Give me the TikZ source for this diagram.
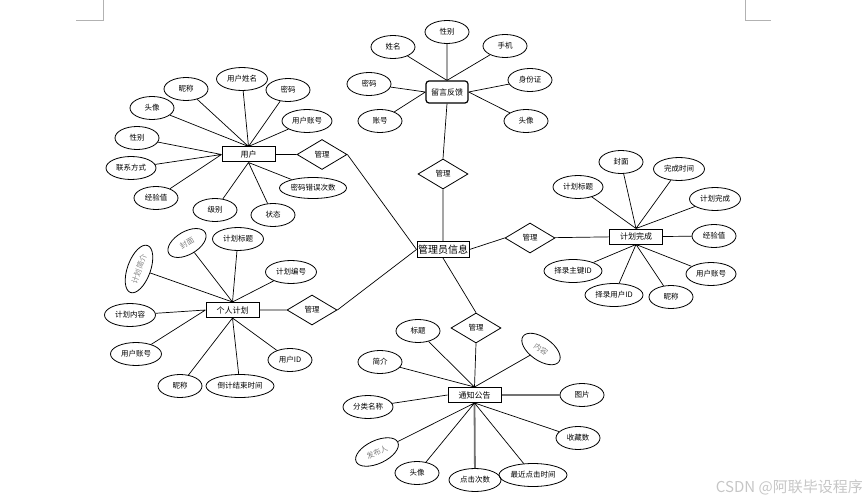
\documentclass[tikz,border=0pt]{standalone}
\usepackage{fontspec}
\setmainfont{Noto Sans CJK SC}
\usetikzlibrary{shapes.geometric}

\begin{document}
\begin{tikzpicture}[x=1pt, y=-1pt,
    attr/.style={draw, ellipse, line width=0.8pt, minimum width=44pt, minimum height=23pt, inner sep=0pt, font=\fontsize{7.5}{9}\selectfont},
    tilted/.style={attr, text=gray},
    entity/.style={draw, rectangle, line width=1pt, minimum width=53pt, minimum height=15pt, inner sep=1pt, font=\fontsize{8}{9}\selectfont},
    relation/.style={draw, diamond, line width=0.8pt, minimum width=50pt, minimum height=30pt, inner sep=0pt, font=\fontsize{7.5}{9}\selectfont},
    link/.style={line width=0.7pt},
    heavy/.style={line width=1.8pt, black!55}]
    \useasboundingbox (0,0) rectangle (868,500);

    % Page corner marks
    \draw[gray!60, line width=0.6pt] (76,20) -- (103,20) -- (103,0);
    \draw[gray!60, line width=0.6pt] (745,0) -- (745,20) -- (771,20);

    % Central entity
    \node[entity, font=\fontsize{10}{12}\selectfont, minimum width=52pt, minimum height=16pt] (admin) at (443,249.5) {管理员信息};

    % User entity and its attributes
    \node[entity] (user) at (248.5,154.5) {用户};
    \node[relation] (r_user) at (322,154.5) {管理};
    \node[attr] (u_nick) at (186,89) {昵称};
    \node[attr, minimum width=51pt] (u_name) at (242,79) {用户姓名};
    \node[attr] (u_pwd) at (288,90) {密码};
    \node[attr, minimum width=50pt] (u_acc) at (307,121) {用户账号};
    \node[attr] (u_head) at (152,108) {头像};
    \node[attr] (u_sex) at (137,138) {性别};
    \node[attr, minimum width=50pt] (u_tel) at (131,168) {联系方式};
    \node[attr] (u_exp) at (156,198) {经验值};
    \node[attr] (u_level) at (215,210) {级别};
    \node[attr] (u_state) at (273,215) {状态};
    \node[attr, minimum width=67pt, minimum height=21pt] (u_err) at (313,188) {密码错误次数};

    % Feedback entity and its attributes
    \node[entity, rounded corners=3pt, line width=1.2pt, minimum width=42pt, minimum height=22pt] (msg) at (447,92) {留言反馈};
    \node[relation] (r_msg) at (443,174) {管理};
    \node[attr] (m_name) at (393,47) {姓名};
    \node[attr] (m_sex) at (447,32) {性别};
    \node[attr] (m_phone) at (505,46) {手机};
    \node[attr] (m_pwd) at (369,84) {密码};
    \node[attr] (m_id) at (530,80) {身份证};
    \node[attr] (m_acc) at (380,121) {账号};
    \node[attr] (m_head) at (526,121) {头像};

    % Plan completion entity and its attributes
    \node[entity] (done) at (636,236.5) {计划完成};
    \node[relation] (r_done) at (530,238) {管理};
    \node[attr] (d_cover) at (621,162) {封面};
    \node[attr, minimum width=51pt] (d_time) at (679,169) {完成时间};
    \node[attr, minimum width=50pt] (d_title) at (578,187) {计划标题};
    \node[attr, minimum width=51pt] (d_done) at (715,199) {计划完成};
    \node[attr] (d_exp) at (714,236) {经验值};
    \node[attr, minimum width=50pt] (d_acc) at (711,274) {用户账号};
    \node[attr] (d_nick) at (671,297) {昵称};
    \node[attr, minimum width=58pt] (d_uid) at (614,295) {择录用户ID};
    \node[attr, minimum width=58pt] (d_key) at (573,271) {择录主键ID};

    % Personal plan entity and its attributes
    \node[entity] (plan) at (232.5,310) {个人计划};
    \node[relation] (r_plan) at (312,310) {管理};
    \node[attr, minimum width=51pt] (p_title) at (238,239) {计划标题};
    \node[tilted, minimum width=42pt, rotate=30] (p_cover) at (187,243) {封面};
    \node[tilted, minimum width=50pt, rotate=70] (p_intro) at (139,269) {计划简介};
    \node[attr, minimum width=51pt] (p_no) at (291,272) {计划编号};
    \node[attr, minimum width=51pt] (p_text) at (130,315) {计划内容};
    \node[attr, minimum width=51pt] (p_acc) at (136,354) {用户账号};
    \node[attr] (p_uid) at (290,360) {用户ID};
    \node[attr] (p_nick) at (180,386) {昵称};
    \node[attr, minimum width=68pt] (p_end) at (240,386) {倒计结束时间};

    % Notice entity and its attributes
    \node[entity] (notice) at (474.5,395) {通知公告};
    \node[relation] (r_notice) at (476,328) {管理};
    \node[attr] (n_title) at (418,331) {标题};
    \node[attr] (n_intro) at (380,362) {简介};
    \node[tilted, rotate=-35] (n_text) at (541,349) {内容};
    \node[attr] (n_pic) at (582,395) {图片};
    \node[attr, minimum width=50pt] (n_type) at (368,407) {分类名称};
    \node[attr] (n_fav) at (578,438) {收藏数};
    \node[tilted, minimum width=46pt, rotate=25] (n_author) at (377,452) {发布人};
    \node[attr] (n_head) at (417,473) {头像};
    \node[attr, minimum width=52pt] (n_click) at (475,480) {点击次数};
    \node[attr, minimum width=68pt] (n_last) at (533,475) {最近点击时间};

    % Relations to the central entity
    \draw[link] (user) -- (r_user) (r_user.east) -- (admin.west);
    \draw[link] (plan) -- (r_plan) (r_plan.east) -- (admin.west);
    \draw[link] (msg.south) -- (r_msg.north) (r_msg.south) -- (admin.north);
    \draw[link] (admin.east) -- (r_done.west) (r_done) -- (done);
    \draw[link] (admin.south) -- (r_notice.north) (r_notice.south) -- (notice.north);

    % User attribute links
    \draw[link] (user.north) -- (u_nick) (user.north) -- (u_name) (user.north) -- (u_pwd)
        (user.north) -- (u_acc) (user.north) -- (u_head);
    \draw[link] (user.west) -- (u_sex) (user.west) -- (u_tel) (user.west) -- (u_exp);
    \draw[link] (user.south) -- (u_level) (user.south) -- (u_state) (user.south) -- (u_err);

    % Feedback attribute links
    \draw[link] (msg.north) -- (m_name) (msg.north) -- (m_sex) (msg.north) -- (m_phone);
    \draw[link] (msg.west) -- (m_pwd) (msg.west) -- (m_acc);
    \draw[link] (msg.east) -- (m_id) (msg.east) -- (m_head);

    % Plan completion attribute links
    \draw[link] (done.north) -- (d_cover) (done.north) -- (d_time) (done.north) -- (d_title)
        (done.north) -- (d_done);
    \draw[link] (done.east) -- (d_exp);
    \draw[link] (done.south) -- (d_acc) (done.south) -- (d_nick) (done.south) -- (d_uid)
        (done.south) -- (d_key);

    % Personal plan attribute links
    \draw[link] (plan.north) -- (p_title) (plan.north) -- (p_cover) (plan.north) -- (p_intro)
        (plan.north) -- (p_no);
    \draw[link] (plan.west) -- (p_text) (plan.west) -- (p_acc);
    \draw[link] (plan.south) -- (p_uid) (plan.south) -- (p_nick) (plan.south) -- (p_end);

    % Notice attribute links
    \draw[link] (notice.north) -- (n_title) (notice.north) -- (n_intro) (notice.north) -- (n_text);
    \draw[link] (notice.west) -- (n_type);
    \draw[heavy] (notice.east) -- (n_pic);
    \draw[heavy] (notice.south) -- (n_click);
    \draw[link] (notice.south) -- (n_fav) (notice.south) -- (n_author) (notice.south) -- (n_head)
        (notice.south) -- (n_last);

    % Watermark
    \node[anchor=south east, text=gray!45, font=\fontsize{15}{17}\selectfont, inner sep=0pt] (mark) at (863,495) {CSDN @阿联毕设程序};
\end{tikzpicture}
\end{document}
